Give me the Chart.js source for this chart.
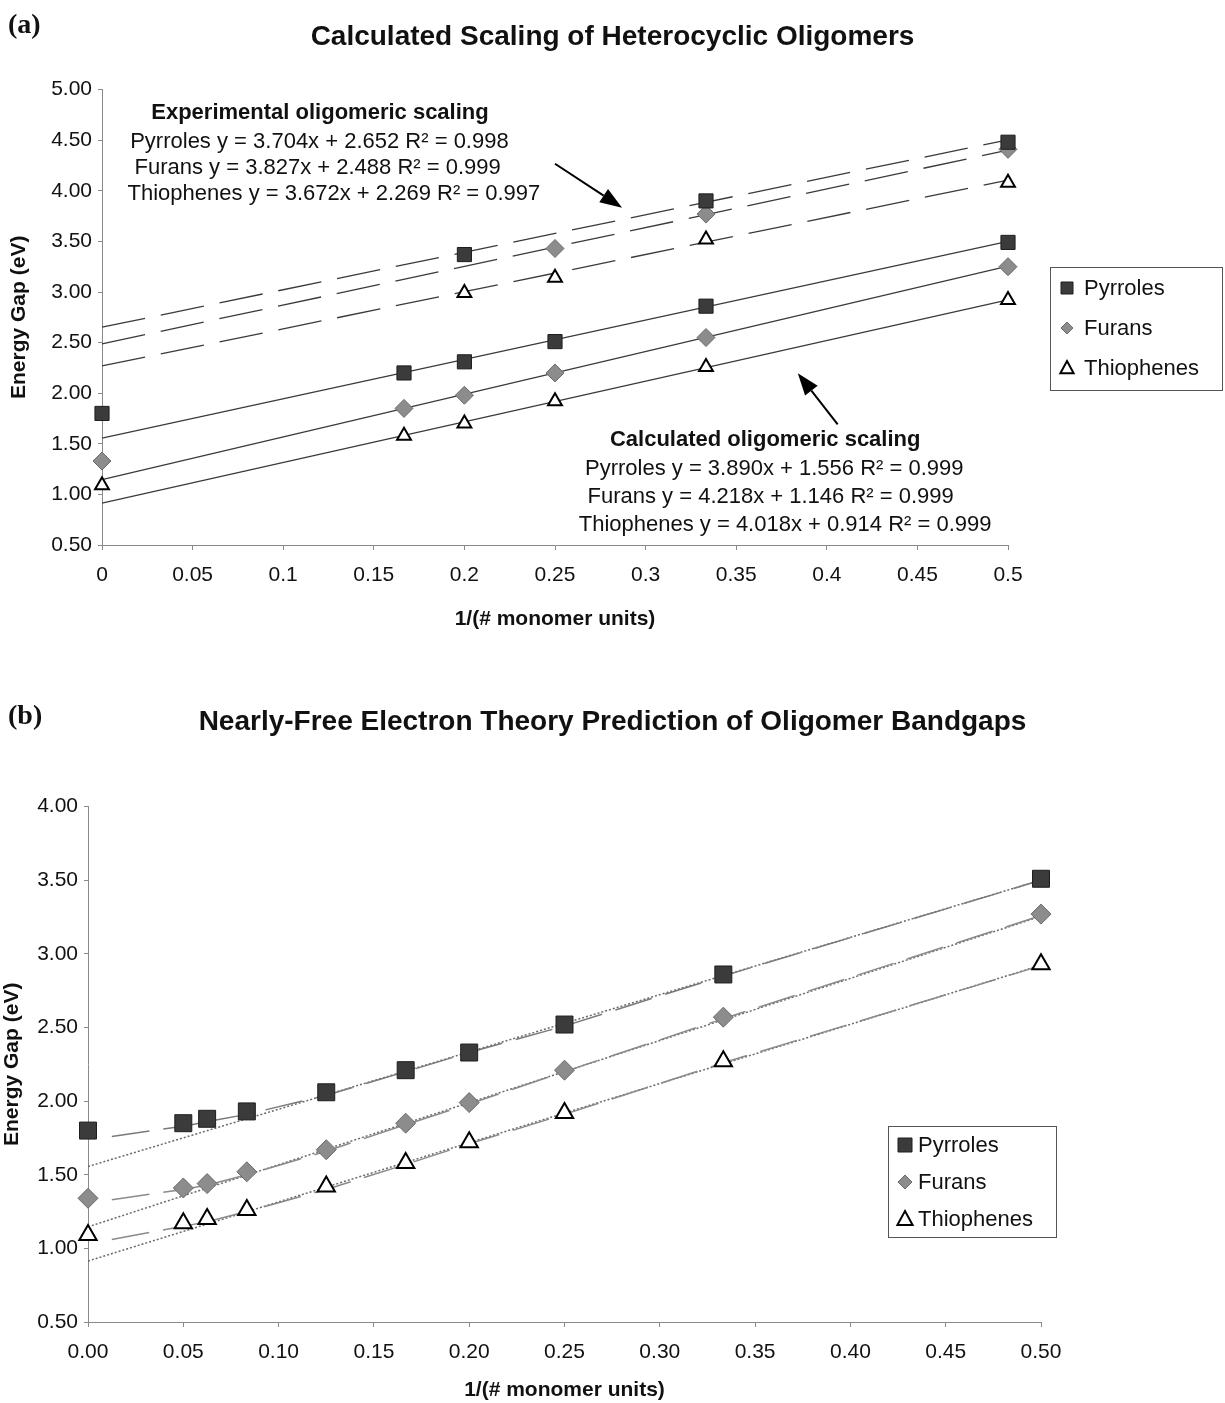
<!DOCTYPE html>
<html>
<head>
<meta charset="utf-8">
<script src="https://cdn.jsdelivr.net/npm/chart.js@4.4.1/dist/chart.umd.min.js"></script>
<style>
  html, body { margin: 0; padding: 0; background: #fff; }
  body { width: 1225px; height: 1403px; position: relative; overflow: hidden; }
  canvas { position: absolute; left: 0; }
  #chartA { top: 0; }
  #chartB { top: 650px; }
</style>
</head>
<body>
<canvas id="chartA" width="1225" height="650"></canvas>
<canvas id="chartB" width="1225" height="753"></canvas>
<script>
// ---- data, panel (a) ----
const seriesNames = ['Pyrroles', 'Furans', 'Thiophenes'];

const xCalcA = [0, 1/6, 1/5, 1/4, 1/3, 1/2];
const calcPyrroles = [1.80, 2.20, 2.31, 2.51, 2.86, 3.49];
const calcFurans = [1.33, 1.85, 1.98, 2.20, 2.55, 3.25];
const calcThiophenes = [1.09, 1.58, 1.70, 1.92, 2.26, 2.92];

const xExpPyrroles = [1/5, 1/3, 1/2];
const expPyrroles = [3.37, 3.90, 4.48];
const xExpFurans = [1/4, 1/3, 1/2];
const expFurans = [3.43, 3.77, 4.41];
const xExpThiophenes = [1/5, 1/4, 1/3, 1/2];
const expThiophenes = [2.99, 3.14, 3.52, 4.08];

// trendline equations as printed on the chart
const calcSlope = [3.890, 4.218, 4.018];
const calcIntercept = [1.556, 1.146, 0.914];
const calcR2 = [0.999, 0.999, 0.999];
const expSlope = [3.704, 3.827, 3.672];
const expIntercept = [2.652, 2.488, 2.269];
const expR2 = [0.998, 0.999, 0.997];
const fitX = [0, 0.5];

// ---- data, panel (b) ----
const xB = [0, 0.05, 0.0625, 1/12, 0.125, 1/6, 0.2, 0.25, 1/3, 0.5];
const pyrrolesB = [1.80, 1.85, 1.88, 1.93, 2.06, 2.21, 2.33, 2.52, 2.86, 3.51];
const furansB = [1.34, 1.41, 1.44, 1.52, 1.67, 1.85, 1.99, 2.21, 2.57, 3.27];
const thiophenesB = [1.09, 1.17, 1.20, 1.26, 1.42, 1.58, 1.72, 1.92, 2.27, 2.93];

// nearly-free electron prediction curves (dashed)
const xNfe = [0.0125, 0.05, 0.0625, 1/12, 0.125, 1/6, 0.2, 0.25, 1/3, 0.5];
const nfePyrroles = [1.76, 1.83, 1.86, 1.91, 2.04, 2.20, 2.33, 2.51, 2.85, 3.50];
const nfeFurans = [1.33, 1.40, 1.43, 1.50, 1.66, 1.84, 1.98, 2.20, 2.56, 3.26];
const nfeThiophenes = [1.06, 1.15, 1.18, 1.25, 1.40, 1.57, 1.71, 1.91, 2.26, 2.92];

// ---- tick labels ----
const xTickLabelsA = ['0', '0.05', '0.1', '0.15', '0.2', '0.25', '0.3', '0.35', '0.4', '0.45', '0.5'];
const yTickLabelsA = ['0.50', '1.00', '1.50', '2.00', '2.50', '3.00', '3.50', '4.00', '4.50', '5.00'];
const xTickLabelsB = ['0.00', '0.05', '0.10', '0.15', '0.20', '0.25', '0.30', '0.35', '0.40', '0.45', '0.50'];
const yTickLabelsB = ['0.50', '1.00', '1.50', '2.00', '2.50', '3.00', '3.50', '4.00'];

// ---- styles ----
const SANS = "'Liberation Sans', Arial, Helvetica, sans-serif";
const SERIF = "'Liberation Serif', 'Times New Roman', serif";
const INK = '#111';
const AXIS = '#8a8a8a';
const marker = [
  { style: 'rect', fill: '#3b3b3b', stroke: '#1e1e1e', bw: 1 },
  { style: 'rectRot', fill: '#8c8c8c', stroke: '#6a6a6a', bw: 1 },
  { style: 'triangle', fill: '#ffffff', stroke: '#000000', bw: 2 },
];

const pts = (xs, ys) => xs.map((x, i) => ({ x, y: ys[i] }));
const fitPts = (m, b) => fitX.map((x) => ({ x, y: m * x + b }));
const eqText = (i, m, b, r2) =>
  `${seriesNames[i]} y = ${m[i].toFixed(3)}x + ${b[i].toFixed(3)} R² = ${r2[i].toFixed(3)}`;

function markerSet(i, data, sizes) {
  const s = marker[i];
  return {
    label: seriesNames[i], data, showLine: false, clip: false,
    pointStyle: s.style, pointRadius: sizes[i], pointHoverRadius: sizes[i],
    pointBackgroundColor: s.fill, pointBorderColor: s.stroke, pointBorderWidth: s.bw,
  };
}
function lineSet(data, color, width, dash) {
  return {
    data, showLine: true, pointRadius: 0, pointHoverRadius: 0, clip: false,
    borderColor: color, borderWidth: width, borderDash: dash, fill: false, tension: 0,
  };
}

function makeScales(c) {
  const tickFont = { family: SANS, size: 21 };
  const titleFont = { family: SANS, size: 21, weight: 'bold' };
  return {
    x: {
      type: 'linear', min: 0, max: 0.5,
      ticks: { stepSize: 0.05, autoSkip: false, maxRotation: 0, font: tickFont, color: INK, padding: 13,
        callback: (v, i) => c.xLabels[i] },
      grid: { drawOnChartArea: false, tickLength: 5, color: AXIS },
      border: { color: AXIS },
      title: { display: true, text: '1/(# monomer units)', font: titleFont, color: INK,
        padding: { top: 0, bottom: c.xTitlePad } },
      afterFit: (s) => { s.height = c.xHeight; },
    },
    y: {
      type: 'linear', min: 0.5, max: c.yMax,
      ticks: { stepSize: 0.5, font: tickFont, color: INK, padding: 6,
        callback: (v, i) => c.yLabels[i] },
      grid: { drawOnChartArea: false, tickLength: 4, color: AXIS },
      border: { color: AXIS },
      title: { display: true, text: 'Energy Gap (eV)', font: titleFont, color: INK,
        padding: { top: c.yTitlePad, bottom: 0 } },
      afterFit: (s) => { s.width = c.yWidth; },
    },
    side: {
      type: 'linear', position: 'right', display: true,
      grid: { display: false }, border: { display: false }, ticks: { display: false },
      afterFit: (s) => { s.width = c.rightWidth; },
    },
  };
}

function drawMarker(ctx, style, x, y, r) {
  ctx.beginPath();
  if (style === 'rect') {
    ctx.rect(x - r, y - r, 2 * r, 2 * r);
  } else if (style === 'rectRot') {
    ctx.moveTo(x, y - r); ctx.lineTo(x + r, y); ctx.lineTo(x, y + r); ctx.lineTo(x - r, y);
    ctx.closePath();
  } else {
    ctx.moveTo(x, y - r); ctx.lineTo(x + r * 0.95, y + r * 0.75); ctx.lineTo(x - r * 0.95, y + r * 0.75);
    ctx.closePath();
  }
  ctx.fill();
  ctx.stroke();
}

// panel tag, text notes, arrows and boxed legend
const decor = {
  id: 'decor',
  afterDraw(chart, args, o) {
    const ctx = chart.ctx;
    const xs = chart.scales.x, ys = chart.scales.y;
    ctx.save();
    ctx.fillStyle = INK;
    ctx.textBaseline = 'middle';
    ctx.textAlign = 'left';
    ctx.font = `bold 28px ${SERIF}`;
    ctx.fillText(o.tag, o.tagAt[0], o.tagAt[1]);

    ctx.textAlign = 'center';
    (o.notes || []).forEach((n) => {
      ctx.font = `${n.bold ? 'bold ' : ''}${n.size}px ${SANS}`;
      ctx.fillText(n.text, xs.getPixelForValue(n.x), ys.getPixelForValue(n.y));
    });

    (o.arrows || []).forEach((a) => {
      const x1 = xs.getPixelForValue(a.from[0]), y1 = ys.getPixelForValue(a.from[1]);
      const x2 = xs.getPixelForValue(a.to[0]), y2 = ys.getPixelForValue(a.to[1]);
      const ang = Math.atan2(y2 - y1, x2 - x1);
      const hl = 22, hw = 8;
      const bx = x2 - hl * Math.cos(ang), by = y2 - hl * Math.sin(ang);
      ctx.strokeStyle = '#000';
      ctx.lineWidth = 2;
      ctx.beginPath(); ctx.moveTo(x1, y1); ctx.lineTo(bx, by); ctx.stroke();
      ctx.fillStyle = '#000';
      ctx.beginPath();
      ctx.moveTo(x2, y2);
      ctx.lineTo(bx + hw * Math.sin(ang), by - hw * Math.cos(ang));
      ctx.lineTo(bx - hw * Math.sin(ang), by + hw * Math.cos(ang));
      ctx.closePath(); ctx.fill();
    });

    const L = o.legend;
    ctx.fillStyle = '#fff';
    ctx.strokeStyle = '#555';
    ctx.lineWidth = 1;
    ctx.fillRect(L.box[0], L.box[1], L.box[2], L.box[3]);
    ctx.strokeRect(L.box[0] + 0.5, L.box[1] + 0.5, L.box[2], L.box[3]);
    seriesNames.forEach((name, i) => {
      const y = L.firstY + i * L.step;
      const m = marker[i];
      ctx.fillStyle = m.fill; ctx.strokeStyle = m.stroke; ctx.lineWidth = m.bw;
      drawMarker(ctx, m.style, L.markX, y, L.markR[i]);
      ctx.fillStyle = INK;
      ctx.textAlign = 'left';
      ctx.font = `${L.size}px ${SANS}`;
      ctx.fillText(name, L.textX, y + 1);
    });
    ctx.restore();
  },
};

const common = {
  responsive: false,
  animation: false,
  events: [],
};

// ---- panel (a) ----
const sizesA = [10, 9, 8];
new Chart(document.getElementById('chartA'), {
  type: 'scatter',
  data: {
    datasets: [
      markerSet(0, pts(xCalcA, calcPyrroles), sizesA),
      markerSet(1, pts(xCalcA, calcFurans), sizesA),
      markerSet(2, pts(xCalcA, calcThiophenes), sizesA),
      markerSet(0, pts(xExpPyrroles, expPyrroles), sizesA),
      markerSet(1, pts(xExpFurans, expFurans), sizesA),
      markerSet(2, pts(xExpThiophenes, expThiophenes), sizesA),
      ...[0, 1, 2].map((i) => lineSet(fitPts(calcSlope[i], calcIntercept[i]), '#3a3a3a', 1.2, [])),
      ...[0, 1, 2].map((i) => lineSet(fitPts(expSlope[i], expIntercept[i]), '#3a3a3a', 1.3, [44, 16])),
    ],
  },
  options: {
    ...common,
    layout: { padding: 0 },
    scales: makeScales({
      xLabels: xTickLabelsA, yLabels: yTickLabelsA, yMax: 5,
      xHeight: 105, yWidth: 102, rightWidth: 217, xTitlePad: 18, yTitlePad: 7,
    }),
    plugins: {
      legend: { display: false },
      tooltip: { enabled: false },
      title: {
        display: true, text: 'Calculated Scaling of Heterocyclic Oligomers',
        font: { family: SANS, size: 28, weight: 'bold' }, color: INK,
        padding: { top: 20, bottom: 36 },
      },
      decor: {
        tag: '(a)', tagAt: [8, 26],
        notes: [
          { text: 'Experimental oligomeric scaling', bold: true, size: 22, x: 0.1203, y: 4.77 },
          { text: eqText(0, expSlope, expIntercept, expR2), size: 22, x: 0.120, y: 4.484 },
          { text: eqText(1, expSlope, expIntercept, expR2), size: 22, x: 0.119, y: 4.228 },
          { text: eqText(2, expSlope, expIntercept, expR2), size: 22, x: 0.128, y: 3.971 },
          { text: 'Calculated oligomeric scaling', bold: true, size: 22, x: 0.366, y: 1.536 },
          { text: eqText(0, calcSlope, calcIntercept, calcR2), size: 22, x: 0.371, y: 1.249 },
          { text: eqText(1, calcSlope, calcIntercept, calcR2), size: 22, x: 0.369, y: 0.973 },
          { text: eqText(2, calcSlope, calcIntercept, calcR2), size: 22, x: 0.377, y: 0.697 },
        ],
        arrows: [
          { from: [0.250, 4.267], to: [0.287, 3.833] },
          { from: [0.406, 1.693], to: [0.384, 2.196] },
        ],
        legend: { box: [1050, 267, 172, 123], firstY: 288, step: 40, markX: 1067, textX: 1084,
          markR: [6, 6, 7], size: 22 },
      },
    },
  },
  plugins: [decor],
});

// ---- panel (b) ----
const sizesB = [12, 10, 10];
new Chart(document.getElementById('chartB'), {
  type: 'scatter',
  data: {
    datasets: [
      markerSet(0, pts(xB, pyrrolesB), sizesB),
      markerSet(1, pts(xB, furansB), sizesB),
      markerSet(2, pts(xB, thiophenesB), sizesB),
      lineSet(pts(xNfe, nfePyrroles), '#7a7a7a', 1.5, [38, 14]),
      lineSet(pts(xNfe, nfeFurans), '#8a8a8a', 1.5, [38, 14]),
      lineSet(pts(xNfe, nfeThiophenes), '#8a8a8a', 1.5, [38, 14]),
      ...[0, 1, 2].map((i) => lineSet(fitPts(calcSlope[i], calcIntercept[i]), '#6a6a6a', 1.5, [2, 2])),
    ],
  },
  options: {
    ...common,
    layout: { padding: 0 },
    scales: makeScales({
      xLabels: xTickLabelsB, yLabels: yTickLabelsB, yMax: 4,
      xHeight: 81, yWidth: 88, rightWidth: 184, xTitlePad: 0, yTitlePad: 0,
    }),
    plugins: {
      legend: { display: false },
      tooltip: { enabled: false },
      title: {
        display: true, text: 'Nearly-Free Electron Theory Prediction of Oligomer Bandgaps',
        font: { family: SANS, size: 28, weight: 'bold' }, color: INK,
        padding: { top: 55, bottom: 68 },
      },
      decor: {
        tag: '(b)', tagAt: [8, 67],
        notes: [],
        arrows: [],
        legend: { box: [888, 476, 168, 111], firstY: 495, step: 37, markX: 905, textX: 918,
          markR: [7, 7, 8], size: 22 },
      },
    },
  },
  plugins: [decor],
});
</script>
</body>
</html>
